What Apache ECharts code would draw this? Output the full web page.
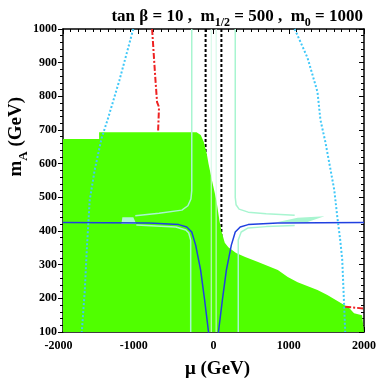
<!DOCTYPE html>
<html><head><meta charset="utf-8">
<script src="https://cdn.jsdelivr.net/npm/echarts@6/dist/echarts.min.js"></script>
<style>html,body{margin:0;padding:0;background:#fff}#c{width:379px;height:382px}</style>
</head><body><div id="c"></div>
<script>
// ---- data (μ in GeV, m_A in GeV) ----
const muTicks = [-2000, -1000, 0, 1000, 2000];
const mATicks = [100, 200, 300, 400, 500, 600, 700, 800, 900, 1000];
const greenBoundary = [[-2000,673],[-1520,673],[-1520,693],[-225,693],[-170,685],[-130,665],[-90,630],[-66,600],[-20,550],[20,510],[39,490],[80,430],[105,400],[150,365],[197,352],[300,335],[421,323],[592,308],[855,284],[987,263],[1118,248],[1382,225],[1513,210],[1737,180],[1800,172],[1868,156],[1974,150],[2000,150]];
const blueLine = [[-2000,425],[-855,424],[-461,419],[-355,412],[-289,397],[-237,358],[-171,284],[-118,195],[-66,100],[-50,50],[50,50],[66,100],[118,195],[171,284],[237,358],[289,397],[355,412],[461,419],[855,424],[2000,425]];
const cyanLeft = [[-1066,1000],[-1250,848],[-1408,730],[-1487,676],[-1579,581],[-1645,492],[-1684,344],[-1710,225],[-1750,100]];
const cyanRight = [[1079,1000],[1250,914],[1382,813],[1421,730],[1487,664],[1605,522],[1645,442],[1684,373],[1711,314],[1737,174],[1750,100]];
const redTop = [[-816,1000],[-776,863],[-750,783],[-724,768],[-737,693]];
const redRight = [[1750,175],[1987,170]];
const mintUpperLeft = [[-289,1000],[-289,520],[-300,495],[-340,475],[-420,462],[-724,453],[-1040,445]];
const mintLowerLeft = [[-1026,418],[-500,412],[-368,403],[-329,394],[-303,373],[-303,100]];
const mintUpperRight = [[289,1000],[289,500],[300,478],[340,465],[461,456],[700,451],[1079,447]];
const mintLowerRight = [[329,100],[329,373],[368,397],[461,409],[700,413],[1079,416]];
const mintBlob = [[-1224,421],[-1211,441],[-1066,441],[-1026,421]];
const mintWedge = [[855,427],[1118,439],[1474,444],[1250,427]];
const faintMu = [-30, 35];
const dashedMu = [-105, 105];

const chart = echarts.init(document.getElementById('c'), null, {renderer: 'canvas'});
const serif = '"Liberation Serif","Times New Roman",serif';

function lineSeries(data, color, width, type, z) {
  return {type: 'line', data: data, showSymbol: false, symbol: 'none', z: z, animation: false,
    lineStyle: {color: color, width: width, type: type}, silent: true};
}
function polySeries(data, color, z) {
  return {type: 'custom', z: z, silent: true, animation: false,
    data: [0],
    renderItem: function (params, api) {
      return {type: 'polygon', shape: {points: data.map(p => api.coord(p))}, style: {fill: color}};
    }};
}

const series = [];
dashedMu.forEach(m => series.push(lineSeries([[m,100],[m,1000]], '#000', 2, [3,2], 1)));
series.push({type: 'line', data: greenBoundary, showSymbol: false, symbol: 'none', z: 2, animation: false,
  lineStyle: {width: 0}, areaStyle: {color: '#50ff00', opacity: 1, origin: 'start'}, silent: true});
faintMu.forEach(m => series.push(lineSeries([[m,100],[m,1000]], '#d0f8e4', 1, 'solid', 3)));
series.push(polySeries(mintBlob, '#b0f5d5', 3));
series.push(polySeries(mintWedge, '#a8f5d0', 3));
[mintUpperLeft, mintLowerLeft, mintUpperRight, mintLowerRight].forEach(d => series.push(lineSeries(d, '#a8f5d0', 1.5, 'solid', 4)));
series.push(lineSeries(blueLine, '#2040e0', 1.5, 'solid', 5));
series.push(lineSeries(cyanLeft, '#40c8f8', 2, [2,2], 6));
series.push(lineSeries(cyanRight, '#40c8f8', 2, [2,2], 6));
series.push(lineSeries(redTop, '#ee2222', 2, [6,2,2,2], 6));
series.push(lineSeries(redRight, '#ee2222', 2, [6,2,2,2], 6));

const axisLine = {show: true, onZero: false, lineStyle: {color: '#000', width: 1.5}};
chart.setOption({
  animation: false,
  title: {
    text: '{a|tan β = 10 ,  m}{s|1/2}{a| = 500 ,  m}{s|0}{a| = 1000}',
    right: 11, top: 3,
    textStyle: {rich: {
      a: {fontFamily: serif, fontWeight: 'bold', fontSize: 17, color: '#000', lineHeight: 17, verticalAlign: 'top'},
      s: {fontFamily: serif, fontWeight: 'bold', fontSize: 12, color: '#000', lineHeight: 12, verticalAlign: 'top', padding: [9,0,0,0]}
    }}
  },
  grid: {left: 63, right: 12, top: 29, bottom: 50, show: false},
  xAxis: [
    {type: 'value', min: muTicks[0], max: muTicks[muTicks.length-1], interval: 1000, position: 'bottom',
      axisLine: axisLine, splitLine: {show: false},
      axisTick: {show: true, inside: true, length: 5, lineStyle: {color: '#000', width: 1}},
      minorTick: {show: true, splitNumber: 10, length: 3, lineStyle: {color: '#000', width: 1}},
      axisLabel: {margin: 8, color: '#000', fontFamily: serif, fontWeight: 'bold', fontSize: 12,
        formatter: v => v < 0 ? '{n|' + v + '}' : '{p|' + v + '}',
        rich: {n: {fontFamily: serif, fontWeight: 'bold', fontSize: 12, color: '#000', padding: [0,9,0,0]},
               p: {fontFamily: serif, fontWeight: 'bold', fontSize: 12, color: '#000'}}}},
    {type: 'value', min: muTicks[0], max: muTicks[muTicks.length-1], interval: 1000, position: 'top',
      axisLine: axisLine, splitLine: {show: false}, axisLabel: {show: false},
      axisTick: {show: true, inside: true, length: 5, lineStyle: {color: '#000'}},
      minorTick: {show: true, splitNumber: 10, length: 3, lineStyle: {color: '#000'}}}
  ],
  yAxis: [
    {type: 'value', min: mATicks[0], max: mATicks[mATicks.length-1], interval: 100, position: 'left',
      axisLine: axisLine, splitLine: {show: false},
      axisTick: {show: true, inside: false, length: 5, lineStyle: {color: '#000', width: 1}},
      minorTick: {show: true, splitNumber: 5, length: 3, lineStyle: {color: '#000', width: 1}},
      axisLabel: {margin: 6, color: '#000', fontFamily: serif, fontWeight: 'bold', fontSize: 12,
        formatter: v => String(v)}},
    {type: 'value', min: mATicks[0], max: mATicks[mATicks.length-1], interval: 100, position: 'right',
      axisLine: axisLine, splitLine: {show: false}, axisLabel: {show: false},
      axisTick: {show: true, inside: true, length: 5, lineStyle: {color: '#000'}},
      minorTick: {show: true, splitNumber: 5, length: 3, lineStyle: {color: '#000'}}}
  ],
  graphic: [
    {type: 'text', left: 7, top: 97, rotation: Math.PI/2, silent: true,
      style: {text: '{a|m}{s|A}{a| (GeV)}', rich: {
        a: {fontFamily: serif, fontWeight: 'bold', fontSize: 19, fill: '#000', lineHeight: 19, verticalAlign: 'top'},
        s: {fontFamily: serif, fontWeight: 'bold', fontSize: 13, fill: '#000', lineHeight: 13, verticalAlign: 'top', padding: [10,0,0,0]}}}},
    {type: 'text', left: 185, top: 360, silent: true,
      style: {text: 'μ (GeV)', fontFamily: serif, fontWeight: 'bold', fontSize: 19, fill: '#000'}}
  ],
  series: series
});
</script></body></html>
